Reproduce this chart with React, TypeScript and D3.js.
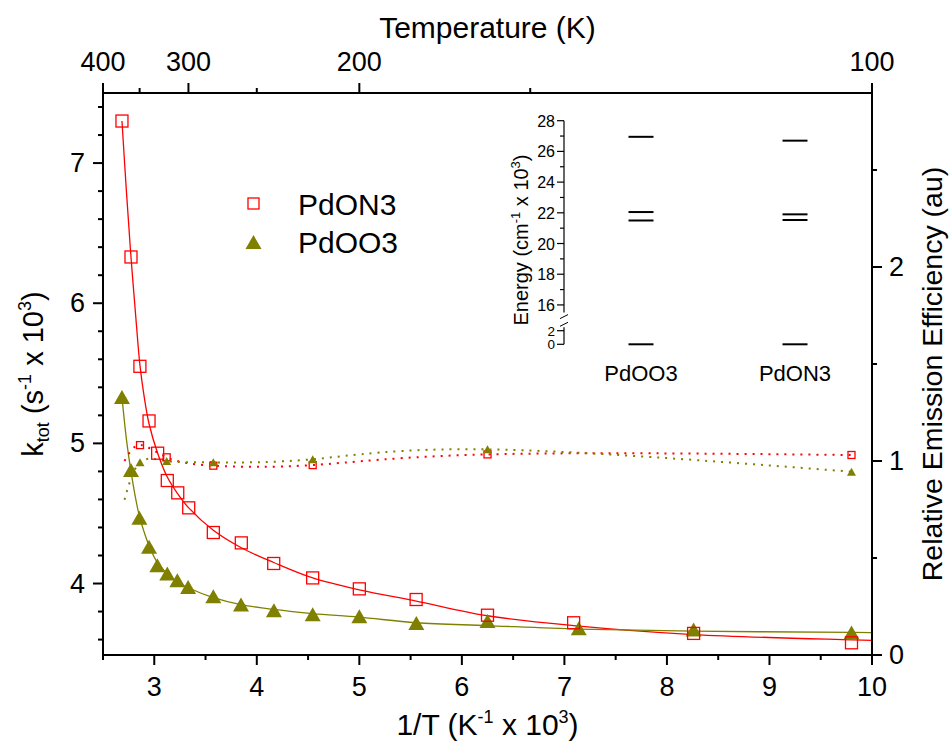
import React from "react";
import * as d3 from "d3";

// ---- k_tot data (1/T in 1e-3 K^-1, k in 1e3 s^-1) ----
const pdon3InvT = [2.685, 2.773, 2.86, 2.949, 3.033, 3.127, 3.229, 3.336, 3.576, 3.849, 4.165, 4.545, 5.0, 5.554, 6.25, 7.09, 8.26, 9.8];
const pdon3K = [7.30, 6.33, 5.55, 5.16, 4.93, 4.735, 4.647, 4.54, 4.364, 4.29, 4.143, 4.04, 3.962, 3.886, 3.774, 3.72, 3.644, 3.577];

const pdoo3InvT = [2.685, 2.773, 2.855, 2.949, 3.03, 3.127, 3.225, 3.33, 3.576, 3.846, 4.167, 4.545, 5.0, 5.556, 6.25, 7.14, 8.26, 9.8];
const pdoo3K = [5.33, 4.81, 4.47, 4.262, 4.131, 4.072, 4.024, 3.976, 3.91, 3.85, 3.81, 3.78, 3.767, 3.719, 3.733, 3.68, 3.672, 3.65];

// ---- fitted curves ----
const pdon3FitX = [2.685, 2.73, 2.773, 2.82, 2.86, 2.9, 2.949, 3.033, 3.127, 3.229, 3.336, 3.576, 3.849, 4.165, 4.545, 5.0, 5.554, 6.25, 7.09, 8.26, 9.8, 10.0];
const pdon3FitY = [7.30, 6.78, 6.33, 5.90, 5.56, 5.34, 5.14, 4.93, 4.76, 4.64, 4.54, 4.38, 4.255, 4.15, 4.04, 3.955, 3.875, 3.77, 3.70, 3.636, 3.598, 3.594];

const pdoo3FitX = [2.685, 2.73, 2.773, 2.82, 2.855, 2.9, 2.949, 3.03, 3.127, 3.225, 3.33, 3.576, 3.846, 4.167, 4.545, 5.0, 5.556, 6.25, 7.14, 8.26, 9.8, 10.0];
const pdoo3FitY = [5.33, 5.02, 4.80, 4.60, 4.48, 4.37, 4.27, 4.15, 4.07, 4.01, 3.97, 3.90, 3.85, 3.815, 3.785, 3.76, 3.72, 3.70, 3.675, 3.66, 3.652, 3.65];

// ---- relative emission efficiency (right axis) ----
const effInvT = [2.71, 2.861, 3.121, 3.576, 4.545, 6.25, 9.8];
const pdon3Eff = [1.0, 1.082, 1.019, 0.976, 0.979, 1.034, 1.031];
const pdoo3Eff = [0.80, 0.993, 1.0, 0.993, 1.009, 1.06, 0.945];
const effMarkerFrom = 1;

// ---- axis ticks ----
const xTicks = [3, 4, 5, 6, 7, 8, 9, 10];
const xMinor = [2.5, 3.5, 4.5, 5.5, 6.5, 7.5, 8.5, 9.5];
const yTicks = [4, 5, 6, 7];
const yMinor = [3.6, 3.8, 4.2, 4.4, 4.6, 4.8, 5.2, 5.4, 5.6, 5.8, 6.2, 6.4, 6.6, 6.8, 7.2, 7.4];
const effTicks = [0, 1, 2];
const effMinor = [0.5, 1.5, 2.5];
const tempTicks = [400, 300, 200, 100];
const tempMinor = [350, 250, 150];

// ---- inset: energy levels (1e3 cm^-1) ----
const insetCategories = ["PdOO3", "PdON3"];
const pdoo3Levels = [0, 21.5, 22.05, 26.95];
const pdon3Levels = [0, 21.53, 21.9, 26.7];
const insetTicks = [16, 18, 20, 22, 24, 26, 28];
const insetMinor = [17, 19, 21, 23, 25, 27];
const insetLowTicks = [0, 2];

const RED = "#ff0000";
const OLIVE = "#808000";
const FONT = "'Liberation Sans', Arial, Helvetica, sans-serif";

function triPath(cx: number, cy: number, w: number, h: number) {
  return `M${cx - w / 2},${cy + h / 2}L${cx + w / 2},${cy + h / 2}L${cx},${cy - h / 2}Z`;
}

export default function App() {
  const W = 951, H = 748;
  const left = 103, right = 872, top = 93, bottom = 655;

  const x = d3.scaleLinear().domain([2.5, 10]).range([left, right]);
  const y = d3.scaleLinear().domain([3.49, 7.5]).range([bottom, top]);
  const yR = d3.scaleLinear().domain([0, 2.897]).range([bottom, top]);

  const fitLine = (xs: number[], ys: number[]) =>
    d3.line<number>().x((_, i) => x(xs[i])).y((v) => y(v)).curve(d3.curveCatmullRom.alpha(0.5))(ys) || "";
  const effLine = (ys: number[]) =>
    d3.line<number>().x((_, i) => x(effInvT[i])).y((v) => yR(v)).curve(d3.curveNatural)(ys) || "";

  // inset scales (broken axis: 0–2.5 below the break, 15.5–28 above)
  const ix = d3.scalePoint<string>().domain(insetCategories).range([641, 795]);
  const iy = d3.scaleLinear().domain([0, 2.5, 15.5, 28]).range([344.3, 327.3, 312.6, 120.7]);
  const insetAxisX = 564;
  const levelHalf = 12.5;
  const levelSets: [string, number[]][] = [["PdOO3", pdoo3Levels], ["PdON3", pdon3Levels]];

  const tickFont = 27;
  const titleFont = 30;

  return (
    <svg width={W} height={H} style={{ position: "absolute", left: 0, top: 0, background: "#fff" }} fontFamily={FONT}>
      <rect width={W} height={H} fill="#fff" />

      {/* fitted curves */}
      <path d={fitLine(pdon3FitX, pdon3FitY)} fill="none" stroke={RED} strokeWidth={1.3} />
      <path d={fitLine(pdoo3FitX, pdoo3FitY)} fill="none" stroke={OLIVE} strokeWidth={1.3} />

      {/* efficiency (dotted) */}
      <path d={effLine(pdon3Eff)} fill="none" stroke={RED} strokeWidth={2} strokeDasharray="2,6" />
      <path d={effLine(pdoo3Eff)} fill="none" stroke={OLIVE} strokeWidth={2} strokeDasharray="2,6" />
      {pdon3Eff.map((v, i) =>
        i >= effMarkerFrom ? (
          <rect key={"es" + i} x={x(effInvT[i]) - 3.5} y={yR(v) - 3.5} width={7} height={7} fill="none" stroke={RED} strokeWidth={1.3} />
        ) : null
      )}
      {pdoo3Eff.map((v, i) =>
        i >= effMarkerFrom ? <path key={"et" + i} d={triPath(x(effInvT[i]), yR(v), 9, 8)} fill={OLIVE} /> : null
      )}

      {/* k_tot markers */}
      {pdoo3K.map((v, i) => (
        <path key={"t" + i} d={triPath(x(pdoo3InvT[i]), y(v), 16, 14)} fill={OLIVE} />
      ))}
      {pdon3K.map((v, i) => (
        <rect key={"s" + i} x={x(pdon3InvT[i]) - 6} y={y(v) - 6} width={12} height={12} fill="none" stroke={RED} strokeWidth={1.3} />
      ))}

      {/* frame */}
      <rect x={left} y={top} width={right - left} height={bottom - top} fill="none" stroke="#000" strokeWidth={2} />

      {/* bottom axis */}
      {xTicks.map((t) => (
        <g key={"xb" + t}>
          <line x1={x(t)} x2={x(t)} y1={bottom} y2={bottom + 10} stroke="#000" strokeWidth={2} />
          <text x={x(t)} y={bottom + 41} textAnchor="middle" fontSize={tickFont}>{t}</text>
        </g>
      ))}
      {xMinor.map((t) => (
        <line key={"xm" + t} x1={x(t)} x2={x(t)} y1={bottom} y2={bottom + 5} stroke="#000" strokeWidth={2} />
      ))}
      <text x={(left + right) / 2} y={735} textAnchor="middle" fontSize={titleFont}>
        1/T (K<tspan dy={-12} fontSize={18}>-1</tspan><tspan dy={12}> x 10</tspan><tspan dy={-12} fontSize={18}>3</tspan><tspan dy={12}>)</tspan>
      </text>

      {/* top axis: temperature */}
      {tempTicks.map((t) => (
        <g key={"xt" + t}>
          <line x1={x(1000 / t)} x2={x(1000 / t)} y1={top} y2={top - 10} stroke="#000" strokeWidth={2} />
          <text x={x(1000 / t)} y={top - 22} textAnchor="middle" fontSize={tickFont}>{t}</text>
        </g>
      ))}
      {tempMinor.map((t) => (
        <line key={"xtm" + t} x1={x(1000 / t)} x2={x(1000 / t)} y1={top} y2={top - 5} stroke="#000" strokeWidth={2} />
      ))}
      <text x={(left + right) / 2} y={38} textAnchor="middle" fontSize={titleFont}>Temperature (K)</text>

      {/* left axis */}
      {yTicks.map((t) => (
        <g key={"yl" + t}>
          <line x1={left} x2={left - 10} y1={y(t)} y2={y(t)} stroke="#000" strokeWidth={2} />
          <text x={left - 18} y={y(t) + 9} textAnchor="end" fontSize={tickFont}>{t}</text>
        </g>
      ))}
      {yMinor.map((t) => (
        <line key={"ylm" + t} x1={left} x2={left - 5} y1={y(t)} y2={y(t)} stroke="#000" strokeWidth={2} />
      ))}
      <text transform={`translate(43,${(top + bottom) / 2}) rotate(-90)`} textAnchor="middle" fontSize={29}>
        k<tspan dy={6} fontSize={18}>tot</tspan><tspan dy={-6}> (s</tspan><tspan dy={-12} fontSize={18}>-1</tspan><tspan dy={12}> x 10</tspan><tspan dy={-12} fontSize={18}>3</tspan><tspan dy={12}>)</tspan>
      </text>

      {/* right axis */}
      {effTicks.map((t) => (
        <g key={"yr" + t}>
          <line x1={right} x2={right + 10} y1={yR(t)} y2={yR(t)} stroke="#000" strokeWidth={2} />
          <text x={right + 17} y={yR(t) + 9} textAnchor="start" fontSize={tickFont}>{t}</text>
        </g>
      ))}
      {effMinor.map((t) => (
        <line key={"yrm" + t} x1={right} x2={right + 5} y1={yR(t)} y2={yR(t)} stroke="#000" strokeWidth={2} />
      ))}
      <text transform={`translate(942,${(top + bottom) / 2}) rotate(-90)`} textAnchor="middle" fontSize={28.5}>
        Relative Emission Efficiency (au)
      </text>

      {/* legend */}
      <rect x={248} y={198} width={11} height={11} fill="none" stroke={RED} strokeWidth={1.3} />
      <text x={298} y={215} fontSize={30}>PdON3</text>
      <path d={triPath(253.5, 242, 16, 14)} fill={OLIVE} />
      <text x={298} y={253} fontSize={30}>PdOO3</text>

      {/* inset: energy level diagram */}
      <line x1={insetAxisX} x2={insetAxisX} y1={iy(28)} y2={iy(15.5)} stroke="#000" strokeWidth={1.2} />
      <line x1={insetAxisX} x2={insetAxisX} y1={iy(2.5)} y2={iy(0)} stroke="#000" strokeWidth={1.2} />
      <line x1={insetAxisX - 4} x2={insetAxisX + 4} y1={iy(15.5) + 6} y2={iy(15.5) + 2} stroke="#000" strokeWidth={1} />
      <line x1={insetAxisX - 4} x2={insetAxisX + 4} y1={iy(2.5) - 1} y2={iy(2.5) - 5} stroke="#000" strokeWidth={1} />
      {insetTicks.map((t) => (
        <g key={"it" + t}>
          <line x1={insetAxisX} x2={insetAxisX - 7} y1={iy(t)} y2={iy(t)} stroke="#000" strokeWidth={1.2} />
          <text x={insetAxisX - 9} y={iy(t) + 6} textAnchor="end" fontSize={16}>{t}</text>
        </g>
      ))}
      {insetMinor.map((t) => (
        <line key={"itm" + t} x1={insetAxisX} x2={insetAxisX - 4} y1={iy(t)} y2={iy(t)} stroke="#000" strokeWidth={1.2} />
      ))}
      {insetLowTicks.map((t) => (
        <g key={"il" + t}>
          <line x1={insetAxisX} x2={insetAxisX - 7} y1={iy(t)} y2={iy(t)} stroke="#000" strokeWidth={1.2} />
          <text x={insetAxisX - 9} y={iy(t) + 5} textAnchor="end" fontSize={13.5}>{t}</text>
        </g>
      ))}
      <text transform={`translate(528,240) rotate(-90)`} textAnchor="middle" fontSize={20}>
        Energy (cm<tspan dy={-8} fontSize={13}>-1</tspan><tspan dy={8}>  x 10</tspan><tspan dy={-8} fontSize={13}>3</tspan><tspan dy={8}>)</tspan>
      </text>
      {levelSets.map(([name, lv]) =>
        lv.map((e, i) => (
          <line key={name + i} x1={(ix(name) || 0) - levelHalf} x2={(ix(name) || 0) + levelHalf} y1={iy(e)} y2={iy(e)} stroke="#000" strokeWidth={2} />
        ))
      )}
      {insetCategories.map((c) => (
        <text key={"ic" + c} x={ix(c) || 0} y={381} textAnchor="middle" fontSize={22}>{c}</text>
      ))}
    </svg>
  );
}
